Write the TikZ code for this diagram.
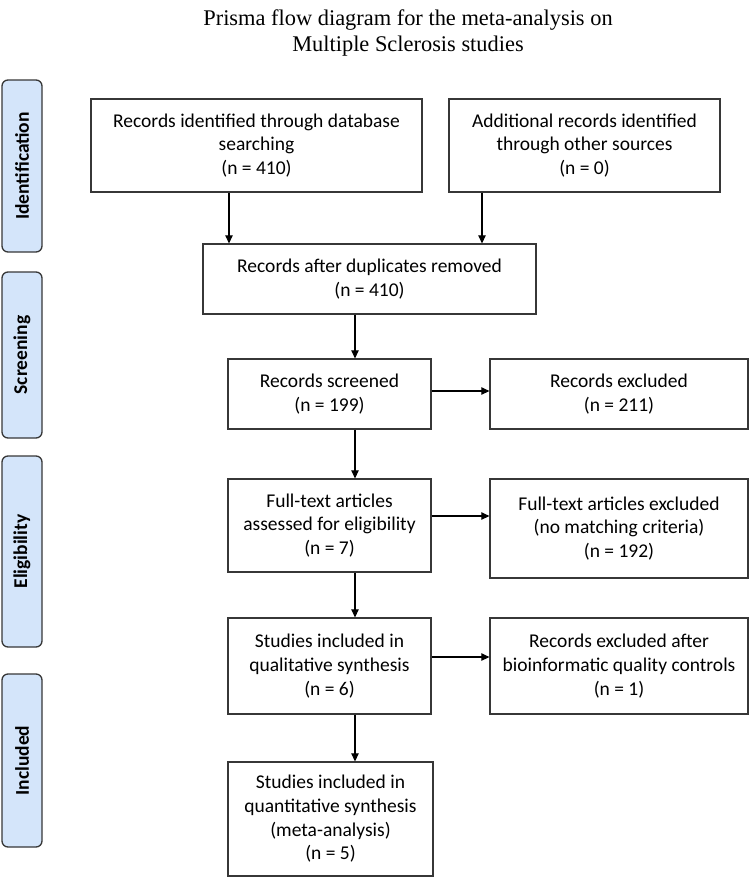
\documentclass[tikz,border=0pt]{standalone}
\usepackage{fontspec}
\setmainfont{Carlito}
\newfontfamily\titlefont{Liberation Serif}
\usetikzlibrary{arrows.meta}
\definecolor{labfill}{RGB}{212,229,250}
\definecolor{edgecol}{RGB}{55,55,55}
\begin{document}
\begin{tikzpicture}[x=1pt,y=-1pt,
  box/.style={draw=edgecol, line width=1.3pt, fill=white, align=center, inner sep=0pt,
    font=\fontsize{19.5}{23.7}\selectfont},
  lab/.style={draw=edgecol, line width=1.3pt, fill=labfill, rounded corners=6pt,
    inner sep=0pt, rotate=90, minimum height=40pt, font=\bfseries\fontsize{19.5}{23}\selectfont},
  arr/.style={draw=black, line width=1.1pt, -{Triangle[length=8pt,width=7.5pt]}}]
\useasboundingbox (0,0) rectangle (750,879);
\node[font=\titlefont\fontsize{22.4}{26.5}\selectfont, align=center] (title) at (408,33)
  {Prisma flow diagram for the meta-analysis on\\Multiple Sclerosis studies};
% side labels
\node[lab, minimum width=172pt] (lid) at (22,166) {Identification};
\node[lab, minimum width=166pt] (lsc) at (22,355) {Screening};
\node[lab, minimum width=191pt] (lel) at (22,551.5) {Eligibility};
\node[lab, minimum width=173pt] (lin) at (22,760.5) {Included};
% boxes
\node[box, minimum width=331pt, minimum height=93pt] (b1) at (256.5,145.5)
  {Records identified through database\\searching\\(n = 410)};
\node[box, minimum width=271pt, minimum height=93pt] (b2) at (584.5,145.5)
  {Additional records identified\\through other sources\\(n = 0)};
\node[box, minimum width=333pt, minimum height=70pt] (b3) at (369.5,279)
  {Records after duplicates removed\\(n = 410)};
\node[box, minimum width=203pt, minimum height=70pt] (b4) at (329.5,394)
  {Records screened\\(n = 199)};
\node[box, minimum width=258pt, minimum height=70pt] (e1) at (619,394)
  {Records excluded\\(n = 211)};
\node[box, minimum width=203pt, minimum height=93pt] (b5) at (329.5,525.5)
  {Full-text articles\\assessed for eligibility\\(n = 7)};
\node[box, minimum width=258pt, minimum height=99pt] (e2) at (619,528.5)
  {Full-text articles excluded\\(no matching criteria)\\(n = 192)};
\node[box, minimum width=203pt, minimum height=96pt] (b6) at (329.5,666)
  {Studies included in\\qualitative synthesis\\(n = 6)};
\node[box, minimum width=258pt, minimum height=96pt] (e3) at (619,666)
  {Records excluded after\\bioinformatic quality controls\\(n = 1)};
\node[box, minimum width=205pt, minimum height=114pt] (b7) at (330.5,819)
  {Studies included in\\quantitative synthesis\\(meta-analysis)\\(n = 5)};
% vertical arrows
\draw[arr] ([xshift=-27.5pt]b1.south) -- ([xshift=-27.5pt]b1.south |- b3.north);
\draw[arr] ([xshift=-102.5pt]b2.south) -- ([xshift=-102.5pt]b2.south |- b3.north);
\draw[arr] ([xshift=-14.5pt]b3.south) -- ([xshift=-14.5pt]b3.south |- b4.north);
\draw[arr] ([xshift=25.5pt]b4.south) -- ([xshift=25.5pt]b4.south |- b5.north);
\draw[arr] ([xshift=25.5pt]b5.south) -- ([xshift=25.5pt]b5.south |- b6.north);
\draw[arr] ([xshift=25.5pt]b6.south) -- ([xshift=25.5pt]b6.south |- b7.north);
% horizontal arrows
\draw[arr] ([yshift=3pt]b4.east) -- ([yshift=3pt]b4.east -| e1.west);
\draw[arr] ([yshift=9.5pt]b5.east) -- ([yshift=9.5pt]b5.east -| e2.west);
\draw[arr] ([yshift=9pt]b6.east) -- ([yshift=9pt]b6.east -| e3.west);
\end{tikzpicture}
\end{document}
